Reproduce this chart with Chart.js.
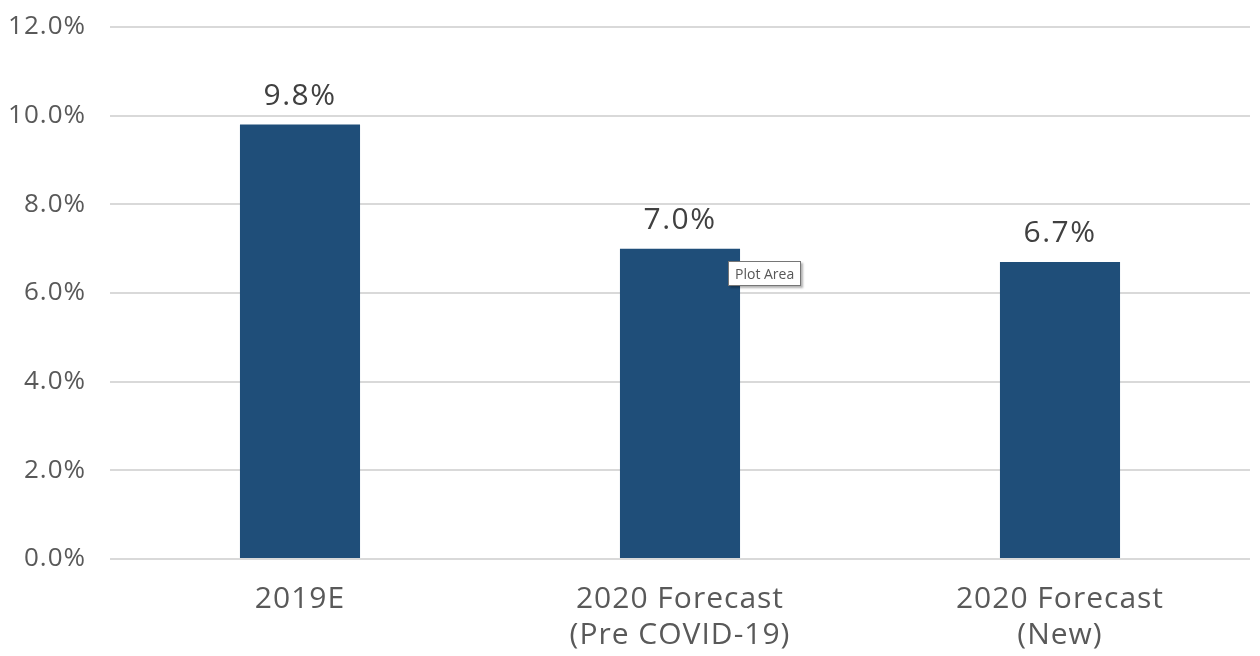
<!DOCTYPE html>
<html>
<head>
<meta charset="utf-8">
<script src="https://cdn.jsdelivr.net/npm/chart.js@4/dist/chart.umd.min.js"></script>
<style>
  html, body { margin: 0; padding: 0; background: #fff; }
  #wrap { position: relative; width: 1260px; height: 656px; }
  #tip {
    position: absolute; left: 728px; top: 261px;
    padding: 2px 6px; background: #fff; border: 1px solid #767676;
    box-shadow: 2px 2px 2px rgba(0,0,0,0.3);
    font: 14px "Open Sans", sans-serif; color: #575757; white-space: nowrap;
  }
</style>
</head>
<body>
<div id="wrap">
  <canvas id="chart" width="1260" height="656"></canvas>
  <div id="tip">Plot Area</div>
</div>
<script>
// Chart data
const categories = [['2019E'], ['2020 Forecast', '(Pre COVID-19)'], ['2020 Forecast', '(New)']];
const values = [9.8, 7.0, 6.7];
const yTicks = [0, 2, 4, 6, 8, 10, 12];

const FONT = '"Open Sans", sans-serif';

// wider letter spacing to get closer to the original font's width
const spacing = {
  id: 'spacing',
  beforeDraw(chart) { chart.ctx.letterSpacing = '1px'; }
};

// Draws the value above each bar
const valueLabels = {
  id: 'valueLabels',
  afterDatasetsDraw(chart) {
    const ctx = chart.ctx;
    const meta = chart.getDatasetMeta(0);
    ctx.save();
    ctx.letterSpacing = '1.5px';
    ctx.font = '30px ' + FONT;
    ctx.fillStyle = '#404040';
    ctx.textAlign = 'center';
    ctx.textBaseline = 'alphabetic';
    meta.data.forEach((bar, i) => {
      ctx.fillText(values[i].toFixed(1) + '%', bar.x, bar.y - 20);
    });
    ctx.restore();
  }
};

const ctx = document.getElementById('chart').getContext('2d');
new Chart(ctx, {
  type: 'bar',
  data: {
    labels: categories,
    datasets: [{
      data: values,
      backgroundColor: '#1F4E79',
      borderWidth: 0,
      barPercentage: 1,
      categoryPercentage: 0.316
    }]
  },
  options: {
    responsive: false,
    animation: false,
    layout: { padding: { top: 27, right: 10, left: 0, bottom: 0 } },
    plugins: { legend: { display: false }, tooltip: { enabled: false } },
    scales: {
      x: {
        grid: { display: false, drawTicks: false },
        border: { display: false },
        ticks: { color: '#595959', font: { family: FONT, size: 30 }, padding: 22, maxRotation: 0 },
        afterFit(scale) { scale.height = 97; scale.paddingLeft = 0; scale.paddingRight = 0; }
      },
      y: {
        min: 0, max: 12,
        afterBuildTicks(scale) { scale.ticks = yTicks.map(v => ({ value: v })); },
        grid: { color: '#D9D9D9', lineWidth: 2, drawTicks: false },
        border: { display: false },
        ticks: {
          color: '#595959', font: { family: FONT, size: 26 }, padding: 24,
          callback: v => v.toFixed(1) + '%'
        },
        afterFit(scale) { scale.width = 110; scale.paddingTop = 0; scale.paddingBottom = 0; }
      }
    }
  },
  plugins: [spacing, valueLabels]
});
</script>
</body>
</html>
